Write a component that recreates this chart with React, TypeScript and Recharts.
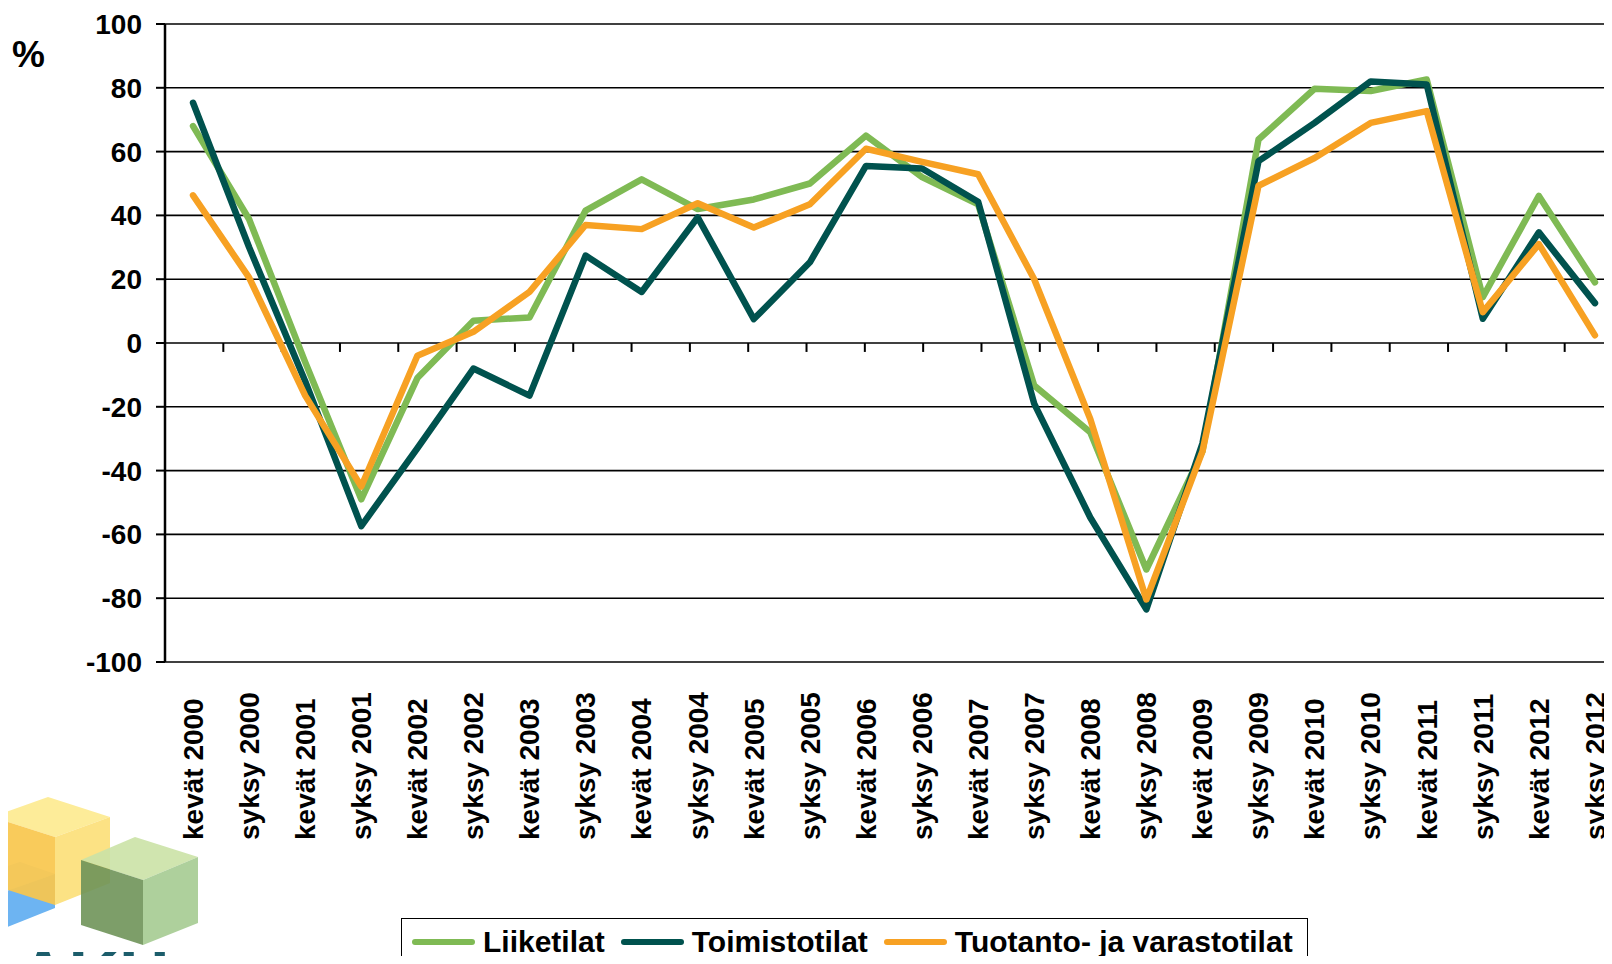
import { LineChart, Line, XAxis, YAxis, CartesianGrid, ReferenceLine, Legend } from 'recharts'

const FONT = "'Liberation Sans', Arial, sans-serif"

const periods = [
  'kevät 2000', 'syksy 2000', 'kevät 2001', 'syksy 2001', 'kevät 2002', 'syksy 2002',
  'kevät 2003', 'syksy 2003', 'kevät 2004', 'syksy 2004', 'kevät 2005', 'syksy 2005',
  'kevät 2006', 'syksy 2006', 'kevät 2007', 'syksy 2007', 'kevät 2008', 'syksy 2008',
  'kevät 2009', 'syksy 2009', 'kevät 2010', 'syksy 2010', 'kevät 2011', 'syksy 2011',
  'kevät 2012', 'syksy 2012',
]

const liiketilat = [
  68, 38.8, -6, -49, -11, 7, 8, 41.5, 51.3, 42, 45, 50, 65,
  52, 43.5, -13.3, -28, -71, -34, 63.8, 79.7, 79, 82.6, 14.4, 46.1, 19,
]

const toimistotilat = [
  75.3, 30, -12, -57.4, -33, -8, -16.5, 27.4, 16, 39.4, 7.5, 25.3, 55.5,
  54.7, 44.3, -19, -54.7, -83.5, -31.5, 57, 69, 82, 81, 7.6, 34.7, 12.5,
]

const tuotanto = [
  46.3, 20.5, -16.5, -45, -4, 3.5, 16, 37, 35.7, 43.8, 36.2, 43.5, 60.9,
  56.8, 52.9, 20, -23.8, -80.4, -34, 49.3, 58, 69, 72.7, 9.7, 31, 2.4,
]

const yTicks = [-100, -80, -60, -40, -20, 0, 20, 40, 60, 80, 100]

const series = [
  { key: 'liiketilat', name: 'Liiketilat', color: '#7FBA54' },
  { key: 'toimistotilat', name: 'Toimistotilat', color: '#00524E' },
  { key: 'tuotanto', name: 'Tuotanto- ja varastotilat', color: '#F7A123' },
]

const data = periods.map((period, i) => ({
  period,
  liiketilat: liiketilat[i],
  toimistotilat: toimistotilat[i],
  tuotanto: tuotanto[i],
}))

// category boundaries on the zero line (Excel style tick marks)
const boundaries = periods.slice(1).map((_, i) => i + 1)

function PeriodTick({ x, y, payload }: any) {
  const ty = y + 178
  return (
    <text
      x={x}
      y={ty}
      dy="0.35em"
      transform={`rotate(-90, ${x}, ${ty})`}
      textAnchor="start"
      fill="#000"
      fontFamily={FONT}
      fontSize={28}
      fontWeight="bold"
    >
      {payload.value}
    </text>
  )
}

function PercentLabel({ viewBox }: any) {
  return (
    <text x={viewBox.x + 12} y={viewBox.y + 43} fill="#000" fontFamily={FONT} fontSize={37} fontWeight="bold">
      %
    </text>
  )
}

function LegendBox({ payload }: any) {
  return (
    <div
      style={{
        border: '1.5px solid #000',
        background: '#fff',
        padding: '6px 14px 30px 10px',
        display: 'flex',
        alignItems: 'center',
        gap: 16,
        whiteSpace: 'nowrap',
        fontFamily: FONT,
        fontSize: 30,
        fontWeight: 'bold',
        color: '#000',
      }}
    >
      {(payload || []).map((entry: any) => (
        <span key={entry.value} style={{ display: 'flex', alignItems: 'center' }}>
          <span
            style={{
              display: 'inline-block',
              width: 63,
              height: 6,
              borderRadius: 3,
              background: entry.color,
              marginRight: 8,
            }}
          />
          {entry.value}
        </span>
      ))}
    </div>
  )
}

function Logo() {
  return (
    <svg width={220} height={194} style={{ position: 'absolute', left: 0, top: 770 }}>
      {/* blue cube, mostly hidden */}
      <polygon points="-40,112 20,92 55,104 -5,125" fill="#B9D7EE" />
      <polygon points="-5,125 55,104 55,138 -5,162" fill="#6DB4F2" />
      {/* yellow cube */}
      <g opacity={0.92}>
        <polygon points="48,27 110,47 55,67 -8,47" fill="#FDEB91" />
        <polygon points="-8,47 55,67 55,135 -8,115" fill="#F9C74E" />
        <polygon points="55,67 110,47 110,113 55,135" fill="#FCE07A" />
      </g>
      {/* green cube */}
      <g opacity={0.9}>
        <polygon points="135,67 198,87 143,110 81,90" fill="#CBE3A7" />
        <polygon points="81,90 143,110 143,175 81,155" fill="#6F9459" />
        <polygon points="143,110 198,87 198,153 143,175" fill="#A6CB92" />
      </g>
      <text x={18} y={231} fill="#1C5D6B" fontFamily={FONT} fontSize={70} fontWeight="bold">
        AKH
      </text>
    </svg>
  )
}

export default function App() {
  return (
    <div style={{ margin: -8, width: 1612, height: 964, overflow: 'hidden', position: 'relative', background: '#fff' }}>
      <Logo />
      <LineChart width={1640} height={964} data={data} margin={{ top: 24, right: 17, left: 0, bottom: 0 }}>
        <CartesianGrid horizontal vertical={false} stroke="#000" strokeWidth={1.6} xAxisId="cat" />
        <XAxis
          xAxisId="cat"
          dataKey="period"
          scale="band"
          interval={0}
          height={302}
          axisLine={false}
          tickLine={false}
          tickSize={0}
          tickMargin={0}
          tick={<PeriodTick />}
        />
        <XAxis xAxisId="edge" type="number" domain={[0, periods.length]} hide allowDataOverflow />
        <YAxis
          domain={[-100, 100]}
          ticks={yTicks}
          interval={0}
          width={165}
          tickSize={9}
          tickMargin={14}
          axisLine={{ stroke: '#000', strokeWidth: 2.5 }}
          tickLine={{ stroke: '#000', strokeWidth: 2 }}
          tick={{ fill: '#000', fontSize: 28, fontWeight: 'bold', fontFamily: FONT }}
          label={<PercentLabel />}
        />
        {boundaries.map((b) => (
          <ReferenceLine
            key={b}
            xAxisId="edge"
            segment={[{ x: b, y: 0 }, { x: b, y: -2.8 }]}
            stroke="#000"
            strokeWidth={2}
            ifOverflow="visible"
          />
        ))}
        <Legend content={<LegendBox />} wrapperStyle={{ left: 401, top: 918, width: 'auto', height: 0 }} />
        {series.map((s) => (
          <Line
            key={s.key}
            xAxisId="cat"
            type="linear"
            dataKey={s.key}
            name={s.name}
            stroke={s.color}
            strokeWidth={6.5}
            strokeLinejoin="round"
            strokeLinecap="round"
            dot={false}
            activeDot={false}
            isAnimationActive={false}
          />
        ))}
      </LineChart>
    </div>
  )
}
